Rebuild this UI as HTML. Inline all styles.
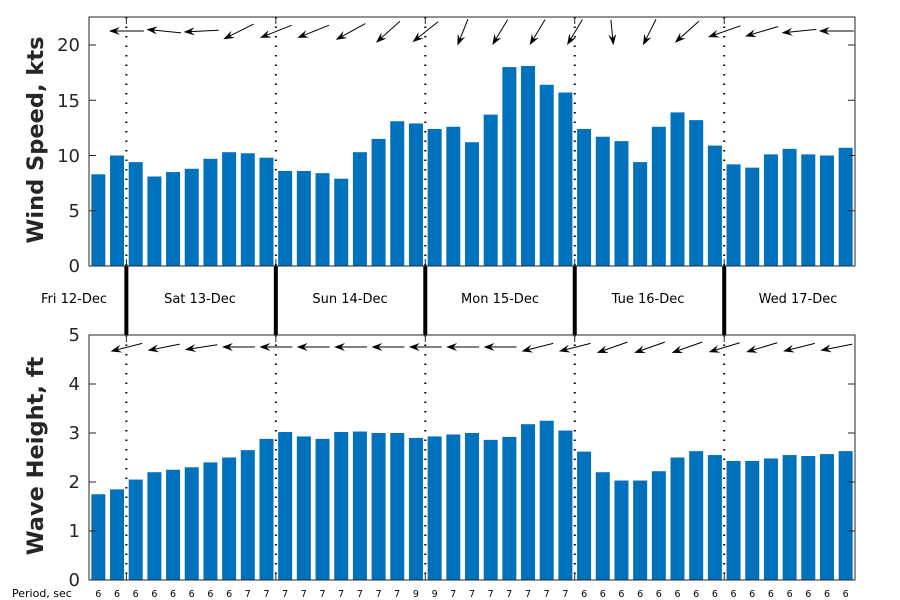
<!DOCTYPE html>
<html><head><meta charset="utf-8"><style>
html,body{margin:0;padding:0;background:#fff;width:900px;height:600px;overflow:hidden}
svg{font-family:"DejaVu Sans","Liberation Sans",sans-serif}
</style></head><body>
<svg id="s" width="900" height="600" viewBox="0 0 900 600" xmlns="http://www.w3.org/2000/svg">
<rect width="900" height="600" fill="#fff"/>
<g id="g"></g>
<g font-size="18" fill="#262626" text-anchor="end">
<text x="80" y="272">0</text><text x="80" y="217">5</text><text x="80" y="162">10</text><text x="80" y="107">15</text><text x="80" y="51">20</text>
<text x="80" y="586">0</text><text x="80" y="537">1</text><text x="80" y="488">2</text><text x="80" y="439">3</text><text x="80" y="390">4</text><text x="80" y="341">5</text>
</g>
<text transform="translate(43,140) rotate(-90)" font-size="22.5" font-weight="bold" fill="#262626" text-anchor="middle">Wind Speed, kts</text>
<text transform="translate(43,456) rotate(-90)" font-size="22.5" font-weight="bold" fill="#262626" text-anchor="middle">Wave Height, ft</text>
<g font-size="13" fill="#000" text-anchor="middle">
<text x="74" y="303">Fri 12-Dec</text><text x="200" y="303">Sat 13-Dec</text><text x="350" y="303">Sun 14-Dec</text><text x="500" y="303">Mon 15-Dec</text><text x="648" y="303">Tue 16-Dec</text><text x="798" y="303">Wed 17-Dec</text>
</g>
<text x="12" y="597" font-size="11" fill="#000">Period, sec</text>
<text font-size="9.5" fill="#000" text-anchor="middle" y="597" x="98.3 117.0 135.7 154.4 173.0 191.7 210.4 229.1 247.8 266.5 285.1 303.8 322.5 341.2 359.9 378.6 397.2 415.9 434.6 453.3 472.0 490.7 509.3 528.0 546.7 565.4 584.1 602.8 621.4 640.1 658.8 677.5 696.2 714.9 733.5 752.2 770.9 789.6 808.3 827.0 845.6">66666666777777777997777777666666666666666</text>
</svg>
<script>
var g=document.getElementById('g'),NS='http://www.w3.org/2000/svg';
function el(t,a){var e=document.createElementNS(NS,t);for(var k in a)e.setAttribute(k,a[k]);g.appendChild(e);return e;}
var W=[8.3,10.0,9.4,8.1,8.5,8.8,9.7,10.3,10.2,9.8,8.6,8.6,8.4,7.9,10.3,11.5,13.1,12.9,12.4,12.6,11.2,13.7,18.0,18.1,16.4,15.7,12.4,11.7,11.3,9.4,12.6,13.9,13.2,10.9,9.2,8.9,10.1,10.6,10.1,10.0,10.7];
var H=[1.75,1.85,2.05,2.2,2.25,2.3,2.4,2.5,2.65,2.88,3.02,2.93,2.88,3.02,3.03,3.0,3.0,2.9,2.93,2.97,3.0,2.86,2.92,3.18,3.25,3.05,2.62,2.2,2.03,2.03,2.22,2.5,2.63,2.55,2.43,2.43,2.48,2.55,2.53,2.57,2.63];
var x0=89,x1=855,bw=(x1-x0)/41;
for(var i=0;i<41;i++){var cx=x0+bw*(i+0.5);
el('rect',{x:cx-7,y:266-W[i]*11.05,width:14,height:W[i]*11.05,fill:'#0072BD'});
el('rect',{x:cx-7,y:580-H[i]*49,width:14,height:H[i]*49,fill:'#0072BD'});}
var seps=[2,10,18,26,34];
seps.forEach(function(k){var x=x0+bw*k;
el('line',{x1:x,y1:17,x2:x,y2:266,stroke:'#000','stroke-width':2,'stroke-dasharray':'1.5 8'});
el('line',{x1:x,y1:335,x2:x,y2:580,stroke:'#000','stroke-width':2,'stroke-dasharray':'1.5 8'});
el('line',{x1:x,y1:266,x2:x,y2:335,stroke:'#000','stroke-width':4});});
[[17,266],[335,580]].forEach(function(r){
el('rect',{x:x0,y:r[0],width:x1-x0,height:r[1]-r[0],fill:'none',stroke:'#262626','stroke-width':1});});
[0,5,10,15,20].forEach(function(v){var y=266-v*11.05;el('line',{x1:x0,y1:y,x2:x0+7,y2:y,stroke:'#262626'});el('line',{x1:x1,y1:y,x2:x1-7,y2:y,stroke:'#262626'});});
[0,1,2,3,4,5].forEach(function(v){var y=580-v*49;el('line',{x1:x0,y1:y,x2:x0+7,y2:y,stroke:'#262626'});el('line',{x1:x1,y1:y,x2:x1-7,y2:y,stroke:'#262626'});});
seps.forEach(function(k){var x=x0+bw*k;[17,335].forEach(function(y){el('line',{x1:x,y1:y,x2:x,y2:y+7,stroke:'#262626'});});[266,580].forEach(function(y){el('line',{x1:x,y1:y,x2:x,y2:y-7,stroke:'#262626'});});});
var TA=[[-1,0],[-1,-0.1],[-1,0.05],[-1,0.5],[-1,0.4],[-1,0.4],[-1,0.55],[-1,0.9],[-1,0.8],[-0.4,1],[-0.6,1],[-0.6,1],[-0.6,1],[0.1,1],[-0.5,1],[-1,0.9],[-1,0.35],[-1,0.3],[-1,0.1],[-1,0]];
var BA=[[-1,0.25],[-1,0.2],[-1,0.15],[-1,0],[-1,0],[-1,0],[-1,0],[-1,0],[-1,0],[-1,0],[-1,0],[-1,0.25],[-1,0.25],[-1,0.35],[-1,0.35],[-1,0.35],[-1,0.3],[-1,0.3],[-1,0.25],[-1,0.2]];
function arrow(cx,cy,d,L){var n=Math.hypot(d[0],d[1]),ux=d[0]/n,uy=d[1]/n;
L=L*(0.7+0.3*Math.abs(ux));
cy=cy+Math.abs(uy)*1.5;
var hx=cx+ux*L/2,hy=cy+uy*L/2,tx=cx-ux*L/2,ty=cy-uy*L/2;
el('line',{x1:tx,y1:ty,x2:hx-ux*4,y2:hy-uy*4,stroke:'#000','stroke-width':1});
var px=-uy,py=ux,bx=hx-ux*11,by=hy-uy*11;
el('polygon',{points:hx+','+hy+' '+(bx+px*4)+','+(by+py*4)+' '+(hx-ux*7)+','+(hy-uy*7)+' '+(bx-px*4)+','+(by-py*4),fill:'#000'});}
for(var k=1;k<=20;k++){var cx=x0+2*bw*k;arrow(cx,31,TA[k-1],35);arrow(cx,347,BA[k-1],33);}
</script>
</body></html>
